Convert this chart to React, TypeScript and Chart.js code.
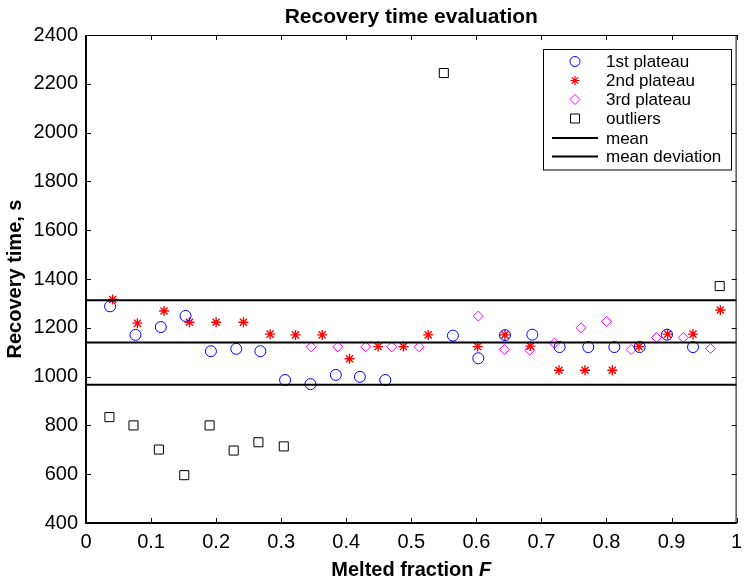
import React, { useEffect, useRef } from "react";
import { Chart, registerables } from "chart.js";

Chart.register(...registerables);

// ---- Data ----
const plateau1F = [0.037, 0.076, 0.115, 0.153, 0.192, 0.231, 0.268, 0.306, 0.345, 0.384, 0.421, 0.46, 0.564, 0.603, 0.644, 0.686, 0.728, 0.772, 0.812, 0.851, 0.893, 0.933];
const plateau1T = [1288, 1171, 1203, 1249, 1104, 1114, 1104, 986, 969, 1007, 999, 986, 1168, 1075, 1170, 1172, 1121, 1121, 1121, 1121, 1172, 1121];

const plateau2F = [0.041, 0.079, 0.12, 0.159, 0.2, 0.242, 0.283, 0.322, 0.363, 0.405, 0.449, 0.488, 0.526, 0.602, 0.644, 0.683, 0.727, 0.767, 0.809, 0.85, 0.894, 0.933, 0.975];
const plateau2T = [1316, 1219, 1269, 1223, 1223, 1223, 1174, 1171, 1171, 1073, 1123, 1123, 1171, 1123, 1171, 1125, 1026, 1026, 1026, 1123, 1174, 1174, 1273];

const plateau3F = [0.346, 0.387, 0.43, 0.47, 0.512, 0.603, 0.643, 0.682, 0.72, 0.761, 0.8, 0.838, 0.877, 0.918, 0.96];
const plateau3T = [1122, 1122, 1122, 1122, 1122, 1248, 1111, 1108, 1137, 1200, 1226, 1111, 1160, 1160, 1115];

const outliersF = [0.036, 0.073, 0.112, 0.151, 0.19, 0.227, 0.265, 0.304, 0.55, 0.974];
const outliersT = [834, 800, 701, 596, 800, 697, 731, 714, 2244, 1371];

const meanValue = 1140;
const meanDeviation = 173;
const lineSpanF = [0, 1];

const legendLabels = ["1st plateau", "2nd plateau", "3rd plateau", "outliers", "mean", "mean deviation"];
const titleText = "Recovery time evaluation";
const xTitleMain = "Melted fraction ";
const xTitleItalic = "F";
const yTitleText = "Recovery time, s";

const FONT = "'Liberation Sans', Arial, Helvetica, sans-serif";

const zip = (xs: number[], ys: number[]) => xs.map((x, i) => ({ x, y: ys[i] }));
const hLine = (v: number) => lineSpanF.map((x) => ({ x, y: v }));

function drawMarker(ctx: CanvasRenderingContext2D, kind: string, x: number, y: number) {
  ctx.save();
  ctx.lineWidth = 1;
  ctx.beginPath();
  if (kind === "circle") {
    ctx.strokeStyle = "#0000ff";
    ctx.arc(x, y, 5, 0, Math.PI * 2);
  } else if (kind === "star") {
    ctx.strokeStyle = "#ff0000";
    ctx.lineWidth = 1.2;
    const r = 4.5;
    const d = r * Math.SQRT1_2;
    ctx.moveTo(x - r, y); ctx.lineTo(x + r, y);
    ctx.moveTo(x, y - r); ctx.lineTo(x, y + r);
    ctx.moveTo(x - d, y - d); ctx.lineTo(x + d, y + d);
    ctx.moveTo(x - d, y + d); ctx.lineTo(x + d, y - d);
  } else if (kind === "diamond") {
    ctx.strokeStyle = "#ff00ff";
    const r = 5;
    ctx.moveTo(x - r, y); ctx.lineTo(x, y - r); ctx.lineTo(x + r, y); ctx.lineTo(x, y + r); ctx.closePath();
  } else if (kind === "square") {
    ctx.strokeStyle = "#000";
    ctx.rect(x - 4.5, y - 4.5, 9, 9);
  } else if (kind === "line") {
    ctx.strokeStyle = "#000";
    ctx.lineWidth = 2;
    ctx.moveTo(x - 23, y); ctx.lineTo(x + 23, y);
  }
  ctx.stroke();
  ctx.restore();
}

const matlabPlugin = {
  id: "matlabDecor",
  afterDraw(chart: any) {
    const { ctx, chartArea: a, scales } = chart;
    const xs = scales.x;
    const ys = scales.y;
    ctx.save();
    // inward ticks
    ctx.strokeStyle = "#000";
    ctx.lineWidth = 1;
    ctx.beginPath();
    for (const t of xs.ticks) {
      const px = Math.round(xs.getPixelForValue(t.value)) + 0.5;
      ctx.moveTo(px, a.bottom); ctx.lineTo(px, a.bottom - 5);
      ctx.moveTo(px, a.top); ctx.lineTo(px, a.top + 5);
    }
    for (const t of ys.ticks) {
      const py = Math.round(ys.getPixelForValue(t.value)) + 0.5;
      ctx.moveTo(a.left, py); ctx.lineTo(a.left + 5, py);
      ctx.moveTo(a.right, py); ctx.lineTo(a.right - 5, py);
    }
    ctx.stroke();
    // frame
    ctx.beginPath();
    ctx.lineWidth = 1;
    ctx.moveTo(a.left, a.top + 0.5); ctx.lineTo(a.right, a.top + 0.5);
    ctx.moveTo(a.right - 0.5, a.top); ctx.lineTo(a.right - 0.5, a.bottom);
    ctx.stroke();
    ctx.beginPath();
    ctx.lineWidth = 2;
    ctx.moveTo(a.left, a.top); ctx.lineTo(a.left, a.bottom + 1);
    ctx.moveTo(a.left - 1, a.bottom); ctx.lineTo(a.right, a.bottom);
    ctx.stroke();

    // title
    const cx = (a.left + a.right) / 2;
    ctx.fillStyle = "#000";
    ctx.textAlign = "center";
    ctx.textBaseline = "alphabetic";
    ctx.font = `bold 21px ${FONT}`;
    ctx.fillText(titleText, cx, 23);

    // x title with italic F
    ctx.font = `bold 20px ${FONT}`;
    const w1 = ctx.measureText(xTitleMain).width;
    ctx.font = `italic bold 20px ${FONT}`;
    const w2 = ctx.measureText(xTitleItalic).width;
    const sx = cx - (w1 + w2) / 2;
    ctx.textAlign = "left";
    ctx.font = `bold 20px ${FONT}`;
    ctx.fillText(xTitleMain, sx, 575.5);
    ctx.font = `italic bold 20px ${FONT}`;
    ctx.fillText(xTitleItalic, sx + w1, 575.5);

    // legend box
    const lx = 543.5, ly = 49.5, lw = 188, lh = 120.5;
    ctx.fillStyle = "#fff";
    ctx.fillRect(lx, ly, lw, lh);
    ctx.strokeStyle = "#000";
    ctx.lineWidth = 1;
    ctx.strokeRect(lx, ly, lw, lh);
    const rows = [61.5, 80.5, 99.5, 118.5, 138, 156.5];
    const kinds = ["circle", "star", "diamond", "square", "line", "line"];
    ctx.font = `17px ${FONT}`;
    ctx.textBaseline = "middle";
    ctx.textAlign = "left";
    rows.forEach((ry, i) => {
      drawMarker(ctx, kinds[i], 575, ry);
      ctx.fillStyle = "#000";
      ctx.fillText(legendLabels[i], 606, ry + 1);
    });
    ctx.restore();
  },
};

export default function App() {
  const ref = useRef<HTMLCanvasElement | null>(null);

  useEffect(() => {
    if (!ref.current) return;
    const zeroPad = (s: any) => {
      s.paddingLeft = 0;
      s.paddingRight = 0;
      s.paddingTop = 0;
      s.paddingBottom = 0;
    };
    const lineDs = (label: string, v: number) => ({
      label,
      data: hLine(v),
      showLine: true,
      pointRadius: 0,
      borderColor: "#000",
      borderWidth: 2,
      order: 0,
    });
    const chart = new Chart(ref.current, {
      type: "scatter",
      data: {
        datasets: [
          lineDs("mean", meanValue),
          lineDs("mean deviation +", meanValue + meanDeviation),
          lineDs("mean deviation -", meanValue - meanDeviation),
          {
            label: "1st plateau",
            data: zip(plateau1F, plateau1T),
            pointStyle: "circle",
            pointRadius: 5.5,
            borderColor: "#0000ff",
            backgroundColor: "rgba(0,0,0,0)",
            borderWidth: 1,
            order: 1,
          },
          {
            label: "2nd plateau",
            data: zip(plateau2F, plateau2T),
            pointStyle: "star",
            pointRadius: 5,
            borderColor: "#ff0000",
            backgroundColor: "rgba(0,0,0,0)",
            borderWidth: 1.4,
            order: 1,
          },
          {
            label: "3rd plateau",
            data: zip(plateau3F, plateau3T),
            pointStyle: "rectRot",
            pointRadius: 5,
            borderColor: "#ff00ff",
            backgroundColor: "rgba(0,0,0,0)",
            borderWidth: 1,
            order: 1,
          },
          {
            label: "outliers",
            data: zip(outliersF, outliersT),
            pointStyle: "rect",
            pointRadius: 6.4,
            borderColor: "#000",
            backgroundColor: "rgba(0,0,0,0)",
            borderWidth: 1,
            order: 1,
          },
        ],
      },
      options: {
        animation: false,
        responsive: false,
        devicePixelRatio: 1,
        layout: { padding: { top: 35, right: 1, left: 0, bottom: 0 } },
        plugins: {
          legend: { display: false },
          tooltip: { enabled: false },
          title: { display: false },
        },
        scales: {
          x: {
            type: "linear",
            min: 0,
            max: 1,
            grid: { display: false, drawTicks: false, tickLength: 0 },
            border: { display: false },
            ticks: {
              stepSize: 0.1,
              padding: 7,
              color: "#000",
              font: { family: FONT, size: 20 },
              maxRotation: 0,
              autoSkip: false,
              callback: (v: any) => String(Math.round(Number(v) * 10) / 10),
            },
            afterFit: (s: any) => {
              s.height = 57;
              zeroPad(s);
            },
          },
          y: {
            type: "linear",
            min: 400,
            max: 2400,
            grid: { display: false, drawTicks: false, tickLength: 0 },
            border: { display: false },
            ticks: {
              stepSize: 200,
              padding: 8,
              color: "#000",
              font: { family: FONT, size: 20 },
              autoSkip: false,
              callback: (v: any) => String(Math.round(Number(v))),
            },
            title: {
              display: true,
              text: yTitleText,
              color: "#000",
              font: { family: FONT, size: 20, weight: "bold" },
              padding: { top: 3, bottom: 0 },
            },
            afterFit: (s: any) => {
              s.width = 86;
              zeroPad(s);
            },
          },
        },
      },
      plugins: [matlabPlugin],
    } as any);
    return () => chart.destroy();
  }, []);

  return (
    <div style={{ position: "absolute", left: 0, top: 0, width: 744, height: 580, background: "#fff" }}>
      <canvas ref={ref} width={744} height={580} style={{ display: "block", width: 744, height: 580 }} />
    </div>
  );
}
